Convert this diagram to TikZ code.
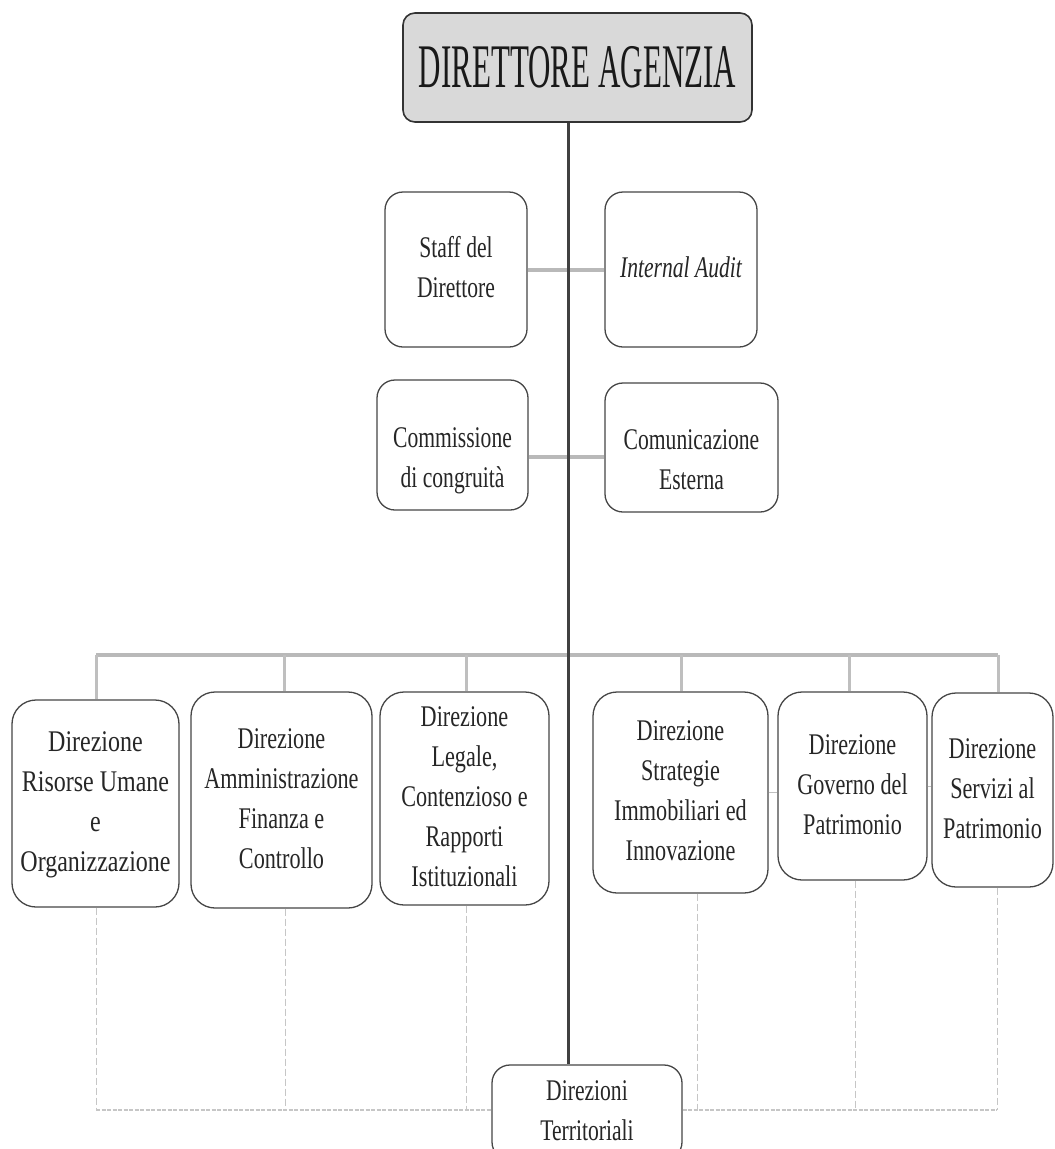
\documentclass[tikz,border=0pt]{standalone}
\usepackage{fontspec}
\setmainfont{Liberation Serif}
\newcommand{\cnd}[2][0.75]{\scalebox{#1}[1]{\begin{tabular}{@{}c@{}}#2\end{tabular}}}
\newcommand{\lowr}[2]{\raisebox{-#1}[\height][\depth]{#2}}
\begin{document}
\begin{tikzpicture}[x=1pt,y=-1pt,
  box/.style={draw=gray!55!black, line width=1.3pt, rounded corners=18pt, fill=white,
    inner sep=0pt, align=center, font=\fontsize{30}{40}\selectfont, text=black!85},
  titlebox/.style={box, fill=gray!30, draw=gray!40!black, line width=1.6pt, rounded corners=12pt,
    font=\fontsize{62}{70}\selectfont, text=black!90},
  spineline/.style={draw=gray!50!black, line width=3pt},
  hconn/.style={draw=gray!55, line width=4.5pt},
  drop/.style={draw=gray!50, line width=3pt},
  dashv/.style={draw=gray!45, line width=1pt, dash pattern=on 7pt off 3pt},
  dashh/.style={draw=gray!45, line width=2pt, dash pattern=on 4pt off 1.5pt},
  stub/.style={draw=gray!50, line width=1pt}]
\clip (0,0) rectangle (1055,1149);
\fill[white] (0,0) rectangle (1055,1149);
% coordinates
\coordinate (spine) at (568,0);
\coordinate (row1) at (0,270);
\coordinate (row2) at (0,457);
\coordinate (busy) at (0,655);
\coordinate (dashy) at (0,1110);
\coordinate (d1) at (96,655);
\coordinate (d2) at (284,655);
\coordinate (d3) at (466,655);
\coordinate (d4) at (681,655);
\coordinate (d5) at (849,655);
\coordinate (d6) at (998,655);
\coordinate (v1) at (96,1110);
\coordinate (v2) at (285,1110);
\coordinate (v3) at (466,1110);
\coordinate (v4) at (697,1110);
\coordinate (v5) at (855,1110);
\coordinate (v6) at (997,1110);
% nodes
\node[titlebox, minimum width=349pt, minimum height=109pt] (top) at (577.5,67.5)
  {\scalebox{0.5}[1]{DIRETTORE AGENZIA}};
\node[box, minimum width=142pt, minimum height=155pt] (staff) at (456,269.5)
  {\cnd[0.72]{Staff del\\Direttore}};
\node[box, minimum width=152pt, minimum height=155pt] (audit) at (681,269.5)
  {\cnd[0.72]{\itshape Internal Audit}};
\node[box, minimum width=151pt, minimum height=130pt] (comm) at (452.5,445)
  {\lowr{14pt}{\cnd[0.72]{Commissione\\di congruità}}};
\node[box, minimum width=173pt, minimum height=129pt] (comu) at (691.5,447.5)
  {\lowr{14pt}{\cnd[0.72]{Comunicazione\\Esterna}}};
\node[box, rounded corners=24pt, minimum width=167pt, minimum height=207pt] (b1) at (95.5,803.5)
  {\cnd[0.8]{Direzione\\Risorse Umane\\e\\Organizzazione}};
\node[box, rounded corners=24pt, minimum width=181pt, minimum height=216pt] (b2) at (281.5,800)
  {\cnd[0.74]{Direzione\\Amministrazione\\Finanza e\\Controllo}};
\node[box, rounded corners=24pt, minimum width=169pt, minimum height=213pt] (b3) at (464.5,798.5)
  {\cnd[0.74]{Direzione\\Legale,\\Contenzioso e\\Rapporti\\Istituzionali}};
\node[box, rounded corners=24pt, minimum width=175pt, minimum height=201pt] (b4) at (680.5,792.5)
  {\cnd[0.74]{Direzione\\Strategie\\Immobiliari ed\\Innovazione}};
\node[box, rounded corners=24pt, minimum width=149pt, minimum height=188pt] (b5) at (852.5,786)
  {\cnd[0.74]{Direzione\\Governo del\\Patrimonio}};
\node[box, rounded corners=24pt, minimum width=121pt, minimum height=194pt] (b6) at (992.5,790)
  {\cnd[0.74]{Direzione\\Servizi al\\Patrimonio}};
\node[box, rounded corners=18pt, minimum width=190pt, minimum height=95pt] (dt) at (587,1112.5)
  {\cnd[0.72]{Direzioni\\Territoriali}};
% connectors
\draw[hconn] (staff.east |- row1) -- (audit.west |- row1);
\draw[hconn] (comm.east |- row2) -- (comu.west |- row2);
\draw[hconn] (d1) -- (d6);
\foreach \i in {1,...,6}{\draw[drop] (d\i) -- (d\i |- b\i.north);}
\draw[spineline] (top.south -| spine) -- (dt.north -| spine);
\foreach \i in {1,...,6}{\draw[dashv] (v\i |- b\i.south) -- (v\i);}
\draw[dashh] (v1) -- (dt.west |- dashy);
\draw[dashh] (dt.east |- dashy) -- (v6);
\draw[stub] (b4.east) -- (b4.east -| b5.west);
\draw[stub] (b5.east) -- (b5.east -| b6.west);
\end{tikzpicture}
\end{document}
